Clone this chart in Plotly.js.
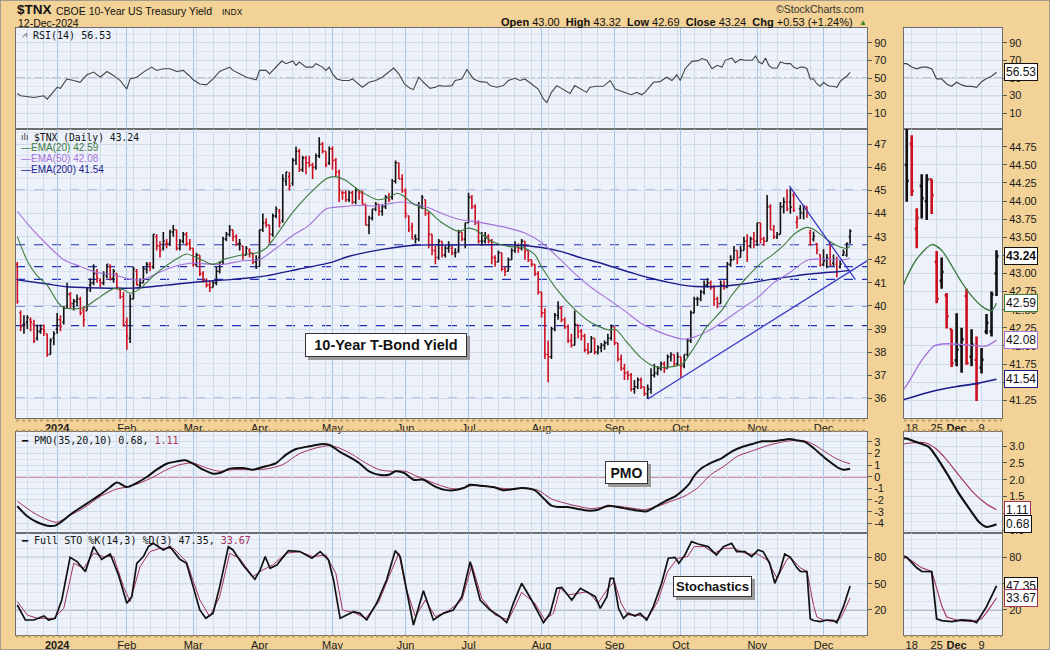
<!DOCTYPE html>
<html><head><meta charset="utf-8">
<script src="https://cdn.plot.ly/plotly-3.0.1.min.js"></script>
<style>html,body{margin:0;padding:0;background:#f2d296;}#chart{width:1050px;height:650px;}</style>
</head><body><div id="chart"></div>
<script>
// ---------- DATA (trading-day index: 0 = 2-Jan-2024, -12 = 13-Dec-2023) ----------
const firstIdx = -12;
const openV = [
 41.8,39.7,39.2,39.3,39.4,39.2,38.6,38.9,39.0,38.8,37.9,38.6,
 39.0,39.4,39.3,40.0,40.5,40.1,40.2,40.3,39.8,39.8,40.9,41.0,41.4,41.1,41.0,41.3,41.7,41.2,41.4,40.7,40.4,
 39.3,38.6,40.3,41.5,40.9,41.0,41.6,41.8,41.7,43.0,42.6,42.5,42.7,42.7,43.2,43.3,42.5,42.8,43.1,42.7,
 42.5,41.8,42.2,41.4,41.1,40.9,40.8,41.0,41.5,41.9,42.9,43.1,43.3,43.0,42.7,42.6,42.2,42.4,42.3,41.9,
 42.1,43.3,43.6,43.5,43.1,43.9,44.1,43.7,45.4,45.6,45.3,46.3,46.7,45.9,46.4,46.2,46.1,46.0,46.5,47.0,46.7,46.2,
 46.8,46.3,45.8,44.9,44.9,44.6,44.9,44.5,45.0,44.9,44.4,43.5,43.8,44.2,44.4,44.1,44.3,44.7,44.7,45.4,46.2,45.5,
 45.0,43.9,43.4,43.0,42.9,44.3,44.6,44.0,43.1,42.4,42.1,42.8,42.2,42.5,42.5,42.3,42.4,43.2,42.9,
 43.6,44.7,44.3,43.6,42.8,42.8,43.0,42.8,42.1,41.9,42.3,41.6,41.5,42.0,42.4,42.6,42.5,42.8,42.4,42.0,41.8,41.4,
 40.6,39.7,37.9,37.8,39.0,39.6,39.9,39.4,39.1,38.5,38.3,39.2,38.9,38.7,38.1,38.0,38.6,38.0,38.2,38.3,38.4,38.6,
 39.1,38.4,37.7,37.3,37.1,37.0,36.4,36.5,36.8,36.5,36.2,36.4,37.0,37.1,37.3,37.5,37.3,37.8,37.9,37.5,
 37.8,37.4,37.9,38.5,39.7,40.3,40.3,40.6,40.9,41.0,40.8,40.3,40.1,40.9,40.8,41.8,42.0,42.4,42.1,42.4,42.8,42.6,42.9,
 42.8,43.6,42.9,42.8,44.3,43.3,43.0,43.1,44.3,44.5,
 44.50,44.79,43.62,44.21,44.00,44.30,43.16,42.90,42.70,42.23,41.80,42.00,42.69,41.85,41.81,41.70,42.20,42.20,43.00];
const highV = [
 41.9,39.8,39.6,39.6,39.5,39.4,39.2,39.2,39.2,38.8,38.6,38.9,
 39.7,39.6,40.0,41.0,40.6,40.3,40.5,40.4,40.0,40.8,41.2,41.8,41.6,41.2,41.5,41.8,41.8,41.6,41.4,40.8,40.6,
 39.5,40.5,41.7,41.6,41.2,41.7,41.9,41.9,43.1,43.1,42.8,43.2,42.9,43.3,43.5,43.3,42.9,43.2,43.2,42.9,
 42.5,42.3,42.2,41.5,41.2,41.1,41.1,41.7,41.9,43.0,43.2,43.5,43.3,43.1,42.9,42.6,42.6,42.5,42.3,42.2,
 43.3,44.0,43.8,43.5,44.0,44.3,44.2,45.7,45.8,45.8,46.4,46.9,46.8,46.5,46.5,46.5,46.2,46.6,47.3,47.1,46.7,46.9,
 46.9,46.4,45.9,45.0,45.0,45.0,45.0,45.1,45.0,45.0,44.4,43.9,44.2,44.5,44.4,44.4,44.8,44.9,45.5,46.3,46.2,45.7,
 45.1,43.9,43.6,43.1,44.5,44.8,44.6,44.1,43.1,42.6,42.9,42.8,42.6,42.8,42.6,42.5,43.3,43.2,43.6,
 44.9,44.8,44.4,43.7,43.2,43.2,43.1,42.9,42.2,42.4,42.3,41.7,42.1,42.5,42.8,42.7,42.9,42.8,42.4,42.0,41.8,41.5,
 40.6,39.9,38.5,39.1,39.7,40.2,40.0,39.5,39.2,38.8,39.8,39.2,39.0,38.8,38.4,38.7,38.6,38.3,38.4,38.5,38.8,39.2,
 39.1,38.4,37.9,37.5,37.2,37.1,36.8,36.9,36.9,36.5,36.6,37.3,37.5,37.4,37.6,37.6,37.9,38.0,37.9,38.0,
 37.8,37.9,38.6,39.8,40.4,40.4,40.7,41.1,41.2,41.1,40.9,40.4,41.1,41.1,41.9,42.2,42.6,42.4,42.6,43.0,43.1,43.0,43.2,
 43.6,43.6,43.0,44.8,44.4,43.5,43.2,44.5,44.7,45.05,
 45.10,44.91,43.90,44.37,44.37,44.30,43.31,43.22,42.73,42.23,42.45,42.25,42.79,42.23,42.13,41.97,42.44,42.75,43.32];
const lowV = [
 40.1,38.9,38.8,39.0,38.9,38.4,38.5,38.8,38.7,37.8,37.9,38.3,
 38.8,38.9,39.2,39.9,39.9,39.8,40.0,39.6,39.1,39.8,40.6,40.9,41.0,40.8,40.9,41.2,41.1,41.0,40.7,40.3,39.1,
 38.1,38.4,40.3,40.9,40.8,41.0,41.4,41.5,41.6,42.4,42.1,42.4,42.5,42.6,43.0,42.4,42.4,42.7,42.6,42.4,
 41.7,41.7,41.3,41.0,40.8,40.6,40.8,40.9,41.4,41.8,42.8,43.0,42.8,42.6,42.4,42.0,42.2,42.1,41.8,41.6,
 41.7,43.2,43.4,42.7,43.0,43.8,43.4,43.6,45.2,45.0,45.2,46.1,45.8,45.8,45.7,46.0,45.5,45.9,46.4,46.6,46.0,46.1,
 45.9,45.6,44.5,44.6,44.5,44.5,44.4,44.4,44.6,44.4,43.5,43.1,43.7,44.1,43.9,43.9,44.2,44.5,44.6,45.3,45.5,44.9,
 43.8,43.2,42.9,42.7,42.8,44.2,43.9,42.5,42.2,41.8,42.0,42.1,42.1,42.3,42.2,42.1,42.3,42.8,42.5,
 43.6,44.2,43.5,42.7,42.6,42.7,42.7,41.8,41.7,41.9,41.5,41.3,41.5,42.0,42.3,42.3,42.4,42.0,41.9,41.7,41.3,40.5,
 39.5,37.7,36.7,37.7,38.9,39.4,39.3,39.0,38.4,38.2,38.3,38.6,38.5,38.0,37.9,38.0,37.9,37.9,38.0,38.1,38.3,38.5,
 38.3,37.6,37.2,36.8,36.8,36.3,36.2,36.4,36.4,36.1,35.97,36.2,36.9,37.0,37.2,37.1,37.3,37.6,37.4,37.4,
 36.9,37.3,37.8,38.4,39.7,40.0,40.2,40.5,40.8,40.7,40.0,39.9,40.1,40.7,40.8,41.7,42.0,41.8,42.1,42.4,41.9,42.5,42.5,
 42.6,42.7,42.6,42.8,43.3,42.9,42.9,43.1,44.0,44.1,
 43.99,44.07,43.35,43.76,43.74,43.82,42.59,42.79,42.24,41.71,41.72,41.63,41.74,41.72,41.24,41.62,42.16,42.13,42.69];
const closeV = [
 40.2,39.1,39.2,39.5,39.3,38.5,38.9,39.0,38.9,37.9,38.5,38.8,
 39.4,39.1,39.9,40.5,40.1,40.2,40.3,39.7,39.4,40.7,41.0,41.4,41.2,41.0,41.4,41.8,41.2,41.5,40.8,40.4,39.2,
 38.7,40.3,41.6,40.9,41.0,41.6,41.8,41.7,43.1,42.6,42.4,42.8,42.7,43.2,43.3,42.5,42.8,43.1,42.7,42.5,
 41.8,42.2,41.4,41.1,40.9,40.8,41.0,41.5,41.9,42.9,43.1,43.3,43.0,42.7,42.7,42.2,42.5,42.3,41.9,42.0,
 43.3,43.6,43.5,43.1,43.9,44.2,43.6,45.5,45.8,45.2,46.3,46.7,45.9,46.4,46.2,46.1,46.0,46.5,47.0,46.7,46.1,46.8,
 46.3,45.8,45.0,44.9,44.6,44.9,44.5,45.0,44.9,44.4,43.5,43.8,44.2,44.4,44.1,44.3,44.7,44.6,45.4,46.2,45.5,45.0,
 44.0,43.3,42.9,42.9,44.3,44.7,44.0,43.1,42.4,42.1,42.8,42.2,42.5,42.6,42.3,42.3,43.2,42.9,43.6,
 44.7,44.3,43.6,42.8,42.8,43.0,42.8,42.1,41.9,42.3,41.6,41.5,42.0,42.4,42.6,42.5,42.8,42.4,42.0,41.8,41.4,40.6,
 39.7,37.9,37.8,39.0,39.6,39.9,39.4,39.1,38.5,38.3,39.2,38.9,38.7,38.1,38.0,38.6,38.0,38.2,38.3,38.4,38.6,39.1,
 38.4,37.7,37.3,37.1,37.0,36.4,36.5,36.8,36.5,36.2,36.4,37.0,37.1,37.3,37.5,37.3,37.8,37.9,37.5,37.8,
 37.4,37.9,38.5,39.7,40.3,40.3,40.6,40.9,41.0,40.8,40.3,40.1,40.9,40.8,41.8,42.0,42.4,42.1,42.4,42.8,42.6,42.9,42.8,
 43.6,42.9,42.8,44.3,43.3,43.0,43.1,44.3,44.5,44.2,
 44.28,44.14,43.77,44.04,44.30,44.08,42.65,43.02,42.41,41.76,41.95,42.09,41.76,42.02,41.48,41.81,42.32,42.71,43.24];

const ema20X = [-12,-9,-6,-3,0,2,5,8,12,17,20,22,25,29,32,37,39,42,47,51,56,60,63,66,71,76,81,83.5,86.5,91.5,96.5,99.5,102.5,104.5,107.5,111.5,116,121,124,126,131,136,141,144,146,151,156,161,166,168.5,171.5,176,180,184,188.5,190.5,193.5,195.5,200.5,203,207,212.5,215.5,219.5,221,223,226,228,230,232,234,236,238,239];
const ema20Y = [43.0,41.95,41.3,40.9,40.2,39.92,39.88,39.92,40.3,40.75,40.7,40.55,40.75,41.3,41.65,42.12,42.25,42.1,41.8,42.05,42.22,42.29,42.5,43.05,44.05,44.85,45.5,45.6,45.47,44.96,44.6,44.67,44.88,44.75,44.4,44.15,43.6,43.23,43.37,43.3,42.8,42.58,42.5,42.22,41.7,40.65,39.85,39.27,38.97,38.97,38.47,37.75,37.38,37.35,37.5,37.88,38.54,39.05,39.84,40.4,41.1,41.9,42.2,42.7,42.95,43.2,43.4,43.32,43.11,42.88,42.69,42.55,42.49,42.59];
const ema50X = [-12,-8,-3,2,7,12,17,22,26,30,35,40,45,50,56,61,66,71,76,81,86,91,96,101,104,108,112,116,121,126,131,136,141,146,151,156,161,166,171,176,181,186,189,192,196,201,206,211,216,221,224,226.5,229,232,235,237,239];
const ema50Y = [44.1,43.4,42.65,42.0,41.71,41.45,41.35,41.15,41.15,41.4,41.7,41.85,41.82,41.8,41.96,42.0,42.5,43.05,43.5,44.2,44.3,44.35,44.32,44.45,44.5,44.4,44.25,44.0,43.75,43.65,43.52,43.37,43.16,42.75,42.1,41.4,40.8,40.3,39.8,39.25,38.9,38.65,38.56,38.65,38.9,39.35,39.85,40.35,41.0,41.46,41.8,42.0,42.03,42.02,42.0,42.0,42.08];
const ema200X = [-12,-3,3,13,23,33,43,53,63,73,83,88,98,108,118,128,138,146,152,158,164,169,174,179,185,190,195,200,205,210,215,221,226,231,235,239];
const ema200Y = [41.13,40.95,40.83,40.78,40.77,40.9,41.05,41.15,41.3,41.6,41.9,42.15,42.45,42.63,42.64,42.65,42.64,42.53,42.35,42.08,41.85,41.62,41.4,41.2,41.0,40.87,40.83,40.85,40.92,41.02,41.15,41.27,41.37,41.44,41.48,41.54];

const rsiX = [-12,-11,-7,-4,-3,-1.6,0,1,2.9,5,6.9,9,11,13,15,17,19,21,22,24,26,28.5,30,32,34,36,38,40,41,43,45,47,49,52,53,55,57,59,60,61,63,64,66,67.7,69,71,72,73,75,77,78,80,81,82,83,84.3,86,88,89,92,94,96,98,100,101.4,103,104.7,106.4,107.4,109,110.4,112.4,114,115,117,119,120,122,123.5,125.5,127.5,129.5,130.5,132.5,134.5,136,138,139.5,141,145,146.6,147.6,149,150.6,153,154.6,156,158,159.6,160.6,162.6,164.6,166.7,168.2,170.7,173,174.7,176.2,177.2,179.7,181.7,183.7,185.3,186.8,187.8,189.3,191.3,193.3,194.3,195.8,197.4,198.9,200.4,201.4,203.4,204.4,205.9,207.4,209.5,210.5,211.5,212.5,213.5,214.5,215.5,217,218,219.6,221,222,223,224,225,226,227,228,229,230,231,232,233,234,235,236,237,238,239];
const rsiY = [32.5,29.8,27.9,29.8,26,31.8,39.5,38.3,49,47.2,45.2,53.7,56.8,51,57.5,53,47.2,37.5,49,51,56.8,62.5,58.7,60.6,60.6,57.5,58.7,52.1,48,43.3,42.2,49,57.5,62.5,58.7,54.8,51,49,48,58.7,58.7,54.8,62.5,69.4,66.4,69.4,64.5,68.3,62.5,62.5,66.4,62.5,58.7,62.5,54.8,49,47.2,47.2,49,39.5,45.2,47.2,51,56.8,61.4,54.8,43.3,38.3,36.8,51,45.2,38.3,39.5,41.4,40.6,41.4,47.2,49,59.8,49,45.9,45.2,41.4,39.5,41.4,47.2,49.8,47.2,49,37.5,26,22.1,33.7,41.4,35.6,32.5,41.4,37.5,33.7,39.5,40.6,40.6,47.2,37.5,34.5,31,33.7,31,33.7,45.2,45.9,51,47.2,53.7,47.2,60.6,69,69.8,72.2,70.2,60.6,64.5,62.5,70.2,72.9,67.5,71.3,70.2,70.2,75.2,68.3,66.4,72.9,64.5,61.4,61.4,68.3,66.4,66.4,62.5,60.6,62.5,62.5,60.6,49,49,43.3,40.6,45.2,42.2,40.6,40.6,39.5,45.9,49.5,52,56.53];

const pmoX = [-12,-9,-6,-3,-0.6,1.9,3.9,6.9,10,13,16,18,21,24,27,30,33,36,38.6,41,44,47,49,52,56,59,62,66,69,72,76,80,82.3,85,88,91,94,97,100,102,104.7,107.4,110.4,113.4,116.4,119.4,122.5,124.5,127.5,131.5,134.5,137.5,140,144,147,149,151,154,157,160,163,166,169,172,175,177.7,180.2,183.2,186.3,188.3,190.3,192.3,194.3,197.4,200.4,203.4,206.4,209.5,212.5,215.5,218.5,220.7,222.7,225.4,227.4,229.5,231.5,233.6,235.6,237,239];
const pmoY = [-2.54,-3.4,-3.91,-4.2,-4.2,-3.74,-3.26,-2.69,-2.11,-1.54,-0.89,-0.49,-0.89,-0.54,-0.03,0.6,1.11,1.31,1.4,1.11,0.6,0.26,0.31,0.69,0.74,0.6,0.83,1.17,1.89,2.37,2.6,2.8,2.69,2.17,1.69,1.17,0.46,0.17,0.17,0.46,0.31,-0.26,-0.26,-0.77,-1.11,-1.17,-0.97,-0.69,-0.77,-0.89,-1.17,-1.06,-0.97,-1.17,-1.97,-2.49,-2.6,-2.6,-2.77,-2.91,-2.83,-2.49,-2.6,-2.77,-2.91,-2.97,-2.6,-2.11,-1.69,-1.26,-0.69,0.17,0.74,1.23,1.6,2.17,2.54,2.8,3.03,3.03,3.14,3.23,3.13,2.98,2.58,2.08,1.58,1.13,0.73,0.6,0.68];
const sigX = [-12,-7,-3,0,3,8,13,18,21,25,29,33,37,41,45,49,53,59,63,68,73,78,82,85,89,93,97,101,105,108,113,118,121,125,129,133,138,141,145,149,153,157,161,165,169,173,177,181,185,189,193,197,201,205,210,214,218,221,224.7,226.8,228.8,231.5,234.3,237,239];
const sigY = [-2.11,-3.11,-3.69,-3.91,-3.46,-2.69,-1.69,-1.06,-0.89,-0.54,-0.03,0.6,1.03,1.17,0.74,0.46,0.6,0.6,0.66,1.03,1.97,2.46,2.66,2.46,1.89,1.17,0.6,0.46,0.46,0.09,-0.49,-0.97,-1.06,-0.77,-0.83,-0.97,-1.06,-0.97,-1.17,-1.91,-2.26,-2.54,-2.74,-2.6,-2.54,-2.69,-2.83,-2.54,-2.11,-1.69,-0.97,0.17,0.89,1.74,2.26,2.66,2.94,3.08,3.1,2.93,2.63,2.13,1.63,1.28,1.11];

const stoKX = [-12,-9.6,-7,-4,-2.6,-0.6,1.4,3.9,6,8.5,11,13.4,16,18.5,21,22.5,24,26,27.5,29,32,34,37,39,41,43,44.8,47,49,51.6,53,56,59.6,61.2,62.7,64.2,66.2,69.7,73.2,76.8,79.3,81.8,83.3,85.3,87.3,89.3,91.3,93.3,96.3,99.3,101.9,103.4,105.9,107.4,110.4,113.4,116.4,119.4,122,124.5,127.5,130.5,133.5,135.5,137.5,140,143,145,146.6,148.6,150.6,152.1,155.1,157.7,160.2,162.2,163.7,165.7,166.7,167.7,169.2,170.7,172.2,174.2,175.7,177.7,179.7,182.2,184.2,186.2,187.4,189.2,191.2,193.2,196.2,198.7,200.8,203.3,204.8,207.3,209.3,211.3,212.8,214.8,216.3,217.8,219.3,221,223,224,226,227,228,230,232,234,235,237,239];
const stoKY = [25.7,8.6,8.6,13.2,8.6,10.5,31.4,80,75.1,63.7,92.2,77.7,83.8,59.9,27.6,35.2,73.2,80.8,92.2,96,88.4,92.2,77.7,73.2,46.6,20,10.5,16.2,46.6,92.2,88.4,71.3,54.9,65.6,80.8,67.5,71.3,87.6,86.5,78.9,86.5,77,54.2,10.5,14.3,18.1,16.2,8.6,27.6,54.2,87.6,80.8,31.4,2.9,42,8.6,16.2,20,35.2,75.1,31.4,20,12.4,5.6,27.6,50.4,31.4,16.2,5.6,16.2,44.7,45.8,31.4,44.7,39,35.2,21.9,35.2,56.1,56.1,21.9,10.5,16.2,13.2,16.2,8.6,23.8,50.4,78.9,80,73.2,82.7,97.9,95.2,92.2,82.7,92.2,96,86.5,86.5,80.8,88.4,86.5,73.2,50.4,63.7,83.8,80,68,64,63.7,10,8,6.7,8.6,8,5.6,23.8,47.35];
const stoDX = [-12,-9,-6,-1,2,5,8,11,14,17,20,22,25,28,31,35,39,43,46,49,52,55,59,62,65,69,73,77,81,84,86,90,93,97,100,103,105,108,111,114,118,122,125,128,132,136,138,140,144,147,149.6,151.6,154,157,160,163,166,168,170,172,175,178,181,184,187,190,192,195,198,201,204,208,211,214,217,220,221,224,226,227,228,229,231,234,236,237,239];
const stoDY = [29.5,14.3,10.5,10.5,21.9,73.2,67.5,84.6,80.8,80.8,46.6,29.5,69.4,86.5,90.3,90.3,75.1,31.4,12.4,35.2,84.6,78.9,58,65.6,71.3,84.6,86.5,80.8,82.7,61.8,20,16.2,10.5,29.5,58,84.6,46.6,12.4,31.4,12.4,19.2,31.4,71.3,33.3,14.3,8.6,23.8,40,27.6,8.6,16.2,44.7,37.1,39,40.9,27.6,44.7,52.3,27.6,14.3,14.3,10.5,29.5,63.7,78.9,80.8,92.2,92.2,84.6,90.3,90.3,83.8,83.8,77,56.1,77.7,80,68,64,45,25,12,8.6,6.7,10,17,33.67];

const priceLevels = [45.0, 42.65, 41.7, 41.15, 40.0, 39.15, 36.0];
const upTrendX = [178, 244.1], upTrendY = [35.97, 41.95];
const downTrendX = [220.7, 240.6], downTrendY = [45.2, 41.14];
const rsiLevels = [30, 70], rsiMid = 50, stoLevels = [20, 80], stoMid = 50;

const monthIdx = [0,21,41,61,83,105,124,146,168,188,211,231];
const monthText = ['<b>2024</b>','Feb','Mar','Apr','May','Jun','Jul','Aug','Sep','Oct','Nov','Dec'];
const weekIdx = [-9,-4,4,9,13,18,23,28,33,37,42,47,52,57,66,71,76,81,86,91,96,101,110,115,119,128,133,138,143,148,153,158,163,172,177,182,187,192,197,202,207,212,217,222,227,236];
const zoomIdx = [222,227,231,236];
const zoomText = ['18','25','<b>Dec</b>','9'];

// ---------- BUILD ----------
const N = closeV.length;
[openV,highV,lowV].forEach(a=>{ if(a.length!==N) throw new Error('OHLC length mismatch '+a.length+' vs '+N); });
[[ema20X,ema20Y],[ema50X,ema50Y],[ema200X,ema200Y],[rsiX,rsiY],[pmoX,pmoY],[sigX,sigY],[stoKX,stoKY],[stoDX,stoDY]].forEach(p=>{ if(p[0].length!==p[1].length) throw new Error('series mismatch '+p[0].length+' '+p[1].length); });
const idx = Array.from({length:N},(_,i)=>firstIdx+i);
const hi = highV.map((h,i)=>Math.max(h,openV[i],closeV[i]));
const lo = lowV.map((l,i)=>Math.min(l,openV[i],closeV[i]));
const upIds=[], dnIds=[];
for(let i=0;i<N;i++){ const prev = i>0?closeV[i-1]:openV[i]; (closeV[i]>=prev?upIds:dnIds).push(i); }
const pick=(a,ids)=>ids.map(i=>a[i]);
const last=a=>a[a.length-1];

const W=1050,H=650;
const px=x=>x/W, py=y=>1-y/H;
const XM=[px(16),px(867)], XR=[px(904),px(1002)];
const dom=(t,b)=>[py(b),py(t)];
const DR=dom(28,129), DP=dom(129,418), DM=dom(432,533), DS=dom(533,635);
const GRID='#cfdbeb', GRIDL='#dbe4f0', GRIDM='#a8c6e3', FR='#6e6e6e';
const SANS='Liberation Sans, Arial, sans-serif', MONO='DejaVu Sans Mono, monospace';
const tf={family:SANS,size:11,color:'#1a1a1a'};
const C20='#3d7a3d', C50='#a472da', C200='#1c1c8a', RED='#cc1020', MAROON='#a3305a';

function xax(domain,anchor,range,tv,tt,minorVals,showLabels,matches){
  const a={domain,anchor,range,tickmode:'array',tickvals:tv,ticktext:tt,showticklabels:showLabels,ticks:'',tickfont:tf,
    showgrid:true,gridcolor:GRIDM,gridwidth:1,zeroline:false,showline:true,mirror:true,linecolor:FR,linewidth:1,
    fixedrange:true,rangeslider:{visible:false},
    minor:{tickmode:'array',tickvals:minorVals,showgrid:true,gridcolor:GRID,gridwidth:1,ticks:''}};
  if(matches) a.matches=matches;
  return a;
}
function yax(domain,anchor,range,opts){
  return Object.assign({domain,anchor,range,side:'right',ticks:'outside',ticklen:4,tickcolor:'#555',tickfont:tf,
    showgrid:true,gridcolor:GRID,zeroline:false,showline:true,mirror:true,linecolor:FR,linewidth:1,fixedrange:true},opts);
}
const XRANGE=[-12.4,244.1], ZRANGE=[220.45,240.1];
const rsiAx=(d,a)=>yax(d,a,[-8,107],{tickmode:'array',tickvals:[10,30,50,70,90],minor:{tickmode:'linear',tick0:0,dtick:10,showgrid:true,gridcolor:GRIDL}});
const stoAx=(d,a)=>yax(d,a,[-8.5,107.7],{tickmode:'array',tickvals:[20,50,80],minor:{tickmode:'linear',tick0:0,dtick:10,showgrid:true,gridcolor:GRIDL}});
const pmoTicks=[-4,-3,-2,-1,0,1,2,3];

const layout={
  width:W,height:H,margin:{l:0,r:0,t:0,b:0},paper_bgcolor:'#f2d296',plot_bgcolor:'#edf1f9',
  showlegend:false,hovermode:false,dragmode:false,
  xaxis: xax(XM,'y', XRANGE,monthIdx,monthText,weekIdx,false),
  xaxis2:xax(XM,'y2',XRANGE,monthIdx,monthText,weekIdx,true,'x'),
  xaxis3:xax(XM,'y3',XRANGE,monthIdx,monthText,weekIdx,false,'x'),
  xaxis4:xax(XM,'y4',XRANGE,monthIdx,monthText,weekIdx,true,'x'),
  xaxis5:xax(XR,'y5',ZRANGE,zoomIdx,zoomText,[],false),
  xaxis6:xax(XR,'y6',ZRANGE,zoomIdx,zoomText,[],true,'x5'),
  xaxis7:xax(XR,'y7',ZRANGE,zoomIdx,zoomText,[],false,'x5'),
  xaxis8:xax(XR,'y8',ZRANGE,zoomIdx,zoomText,[],true,'x5'),
  yaxis: rsiAx(DR,'x'),
  yaxis2:yax(DP,'x2',[35.15,47.66],{tick0:0,dtick:1,minor:{tick0:0,dtick:0.5,showgrid:true,gridcolor:GRIDL}}),
  yaxis3:yax(DM,'x3',[-4.83,3.83],{tickmode:'array',tickvals:pmoTicks,ticktext:pmoTicks.map(String),minor:{tickmode:'linear',tick0:0,dtick:0.5,showgrid:true,gridcolor:GRIDL}}),
  yaxis4:stoAx(DS,'x4'),
  yaxis5:rsiAx(DR,'x5'),
  yaxis6:yax(DP,'x6',[41.005,44.995],{tick0:0,dtick:0.25,tickformat:'.2f'}),
  yaxis7:yax(DM,'x7',[0.42,3.42],{tick0:0,dtick:0.5,tickformat:'.1f',minor:{tick0:0,dtick:0.25,showgrid:true,gridcolor:GRIDL}}),
  yaxis8:stoAx(DS,'x8'),
  shapes:[],annotations:[]
};
for(const k of ['xaxis5','xaxis6','xaxis7','xaxis8']){ layout[k].gridcolor=GRID; }

const traces=[];
function line(xs,ys,xa,ya,color,width,smooth){
  traces.push({type:'scatter',mode:'lines',x:xs,y:ys,xaxis:xa,yaxis:ya,hoverinfo:'skip',
    line:smooth?{color,width,shape:'spline',smoothing:0.7}:{color,width}});
}
function bars(ids,color,xa,ya,w,tw){
  traces.push({type:'ohlc',x:pick(idx,ids),open:pick(openV,ids),high:pick(hi,ids),low:pick(lo,ids),close:pick(closeV,ids),
    xaxis:xa,yaxis:ya,hoverinfo:'skip',tickwidth:tw,
    increasing:{line:{color,width:w}},decreasing:{line:{color,width:w}}});
}
// RSI
line(rsiX,rsiY,'x','y','#454545',1.1,false);
line(rsiX,rsiY,'x5','y5','#454545',1.2,false);
// Price main
line(ema200X,ema200Y,'x2','y2',C200,1.4,true);
line(ema50X,ema50Y,'x2','y2',C50,1.1,true);
line(ema20X,ema20Y,'x2','y2',C20,1.1,true);
bars(upIds,'#111','x2','y2',1.6,0.42);
bars(dnIds,RED,'x2','y2',1.6,0.42);
line(upTrendX,upTrendY,'x2','y2','#3a3ac4',1.3,false);
line(downTrendX,downTrendY,'x2','y2','#3a3ac4',1.3,false);
// Price zoom
line(ema200X,ema200Y,'x6','y6',C200,1.6,true);
line(ema50X,ema50Y,'x6','y6',C50,1.3,true);
line(ema20X,ema20Y,'x6','y6',C20,1.3,true);
bars(upIds,'#111','x6','y6',2.6,0.4);
bars(dnIds,RED,'x6','y6',2.6,0.4);
// PMO
line(sigX,sigY,'x3','y3',MAROON,1,true);
line(pmoX,pmoY,'x3','y3','#111',2,true);
line(sigX,sigY,'x7','y7',MAROON,1.1,true);
line(pmoX,pmoY,'x7','y7','#111',2.2,true);
// STO
line(stoDX,stoDY,'x4','y4',MAROON,1,false);
line(stoKX,stoKY,'x4','y4','#111',1.7,false);
line(stoDX,stoDY,'x8','y8',MAROON,1.1,false);
line(stoKX,stoKY,'x8','y8','#111',1.8,false);

// ---------- SHAPES ----------
const S=layout.shapes;
function hline(xd,yr,y,color,width,dash){ S.push({type:'line',xref:xd,x0:0,x1:1,yref:yr,y0:y,y1:y,line:{color,width,dash},layer:'below'}); }
priceLevels.forEach(v=>hline('x2 domain','y2',v,'#2232b4',1.2,'dash'));
[['x domain','y'],['x5 domain','y5']].forEach(([a,b])=>{ rsiLevels.forEach(v=>hline(a,b,v,'#858585',1,'solid')); hline(a,b,rsiMid,'#8c8c8c',1,'dashdot'); });
[['x4 domain','y4'],['x8 domain','y8']].forEach(([a,b])=>{ stoLevels.forEach(v=>hline(a,b,v,'#858585',1,'solid')); hline(a,b,stoMid,'#8c8c8c',1,'dashdot'); });
hline('x3 domain','y3',0,'#c2285a',1.5,'solid');
function pxLine(x0,x1,y,color,width,dash){ S.push({type:'line',xref:'paper',yref:'paper',x0:px(x0),x1:px(x1),y0:py(y),y1:py(y),line:{color,width,dash}}); }
[[16,867],[904,1002]].forEach(([a,b])=>{ pxLine(a,b,420.5,'#c2a064',2,'dot'); pxLine(a,b,430.5,'#c2a064',2,'dot'); pxLine(a,b,636.5,'#c2a064',2,'dot'); });
function shadow(x0,y0,x1,y1){ S.push({type:'rect',xref:'paper',yref:'paper',x0:px(x0),x1:px(x1),y0:py(y1),y1:py(y0),fillcolor:'#9a9a9a',line:{width:0}}); }
shadow(308,336,470,360); shadow(608,464,651,487); shadow(676,579,755,600);
S.push({type:'rect',xref:'paper',yref:'paper',x0:0,x1:1,y0:0,y1:1,line:{color:'#8a8a8a',width:1.5}});

// ---------- ANNOTATIONS ----------
const A=layout.annotations;
function txt(x,y,text,o){ A.push(Object.assign({xref:'paper',yref:'paper',x:px(x),y:py(y),text,showarrow:false,xanchor:'left',yanchor:'middle',font:{family:SANS,size:11,color:'#111'}},o||{})); }
txt(15,10,'<b>$TNX</b>',{font:{family:SANS,size:13.5,color:'#111'}});
txt(54,11,'CBOE 10-Year US Treasury Yield',{font:{family:SANS,size:10.5,color:'#111'}});
txt(220,12,'INDX',{font:{family:SANS,size:8.5,color:'#111'}});
txt(16,23,'12-Dec-2024',{font:{family:SANS,size:10.5,color:'#111'}});
txt(866,9,'©StockCharts.com',{xanchor:'right',font:{family:SANS,size:10.5,color:'#333'}});
const o=last(openV),h=last(highV),l=last(lowV),c=last(closeV),pc=closeV[N-2];
const chg=c-pc;
txt(855,22,'<b>Open</b> '+o.toFixed(2)+' &nbsp;<b>High</b> '+h.toFixed(2)+' &nbsp;<b>Low</b> '+l.toFixed(2)+' &nbsp;<b>Close</b> '+c.toFixed(2)+' &nbsp;<b>Chg</b> +'+chg.toFixed(2)+' (+'+(chg/pc*100).toFixed(2)+'%)',{xanchor:'right',font:{family:SANS,size:11,color:'#111'}});
txt(857,22,'▲',{font:{family:SANS,size:8,color:'#2f8a2f'}});

txt(31,35.5,'RSI(14) '+last(rsiY).toFixed(2),{font:{family:MONO,size:10,color:'#111'}});
txt(20,35,'⩘',{font:{family:'DejaVu Sans',size:9,color:'#555'}});
txt(32,137,'$TNX (Daily) '+c.toFixed(2),{font:{family:MONO,size:9.7,color:'#111'}});
txt(19,137,'ılı',{font:{family:'DejaVu Sans',size:9,color:'#333'}});
txt(19,148,'—EMA(20) '+last(ema20Y).toFixed(2),{font:{family:SANS,size:10,color:C20}});
txt(19,158.5,'—EMA(50) '+last(ema50Y).toFixed(2),{font:{family:SANS,size:10,color:C50}});
txt(19,169,'—EMA(200) '+last(ema200Y).toFixed(2),{font:{family:SANS,size:10,color:C200}});
txt(19,440,'<b>━</b> PMO(35,20,10) '+last(pmoY).toFixed(2)+', <span style="color:'+MAROON+'">'+last(sigY).toFixed(2)+'</span>',{font:{family:MONO,size:10,color:'#111'}});
txt(19,540.5,'<b>━</b> Full STO %K(14,3) %D(3) '+last(stoKY).toFixed(2)+', <span style="color:'+MAROON+'">'+last(stoDY).toFixed(2)+'</span>',{font:{family:MONO,size:10,color:'#111'}});

function box(cx,cy,w,hgt,text,size){ A.push({xref:'paper',yref:'paper',x:px(cx),y:py(cy),xanchor:'center',yanchor:'middle',showarrow:false,text:'<b>'+text+'</b>',width:w,height:hgt,bgcolor:'#ffffff',bordercolor:'#333',borderwidth:1,borderpad:2,font:{family:SANS,size,color:'#111'}}); }
box(386,345,156,18,'10-Year T-Bond Yield',14.5);
box(626.5,472.5,37,17,'PMO',14);
box(712.5,586.5,73,15,'Stochastics',13);

function tag(yref,val,border,bold){ A.push({xref:'paper',yref,x:px(1004),y:val,xanchor:'left',yanchor:'middle',showarrow:false,
  text:bold?'<b>'+val.toFixed(2)+'</b>':val.toFixed(2),bgcolor:'#ffffff',bordercolor:border,borderwidth:1,borderpad:1,
  font:{family:SANS,size:12,color:'#111'}}); }
tag('y6',c,'#111',true);
tag('y6',last(ema20Y),C20,false);
tag('y6',last(ema50Y),C50,false);
tag('y6',last(ema200Y),C200,false);
tag('y5',last(rsiY),'#111',false);
tag('y7',last(sigY),MAROON,false);
tag('y7',last(pmoY),'#111',false);
tag('y8',last(stoKY),'#111',false);
tag('y8',last(stoDY),MAROON,false);

Plotly.newPlot('chart',traces,layout,{staticPlot:true,displayModeBar:false});
</script></body></html>
